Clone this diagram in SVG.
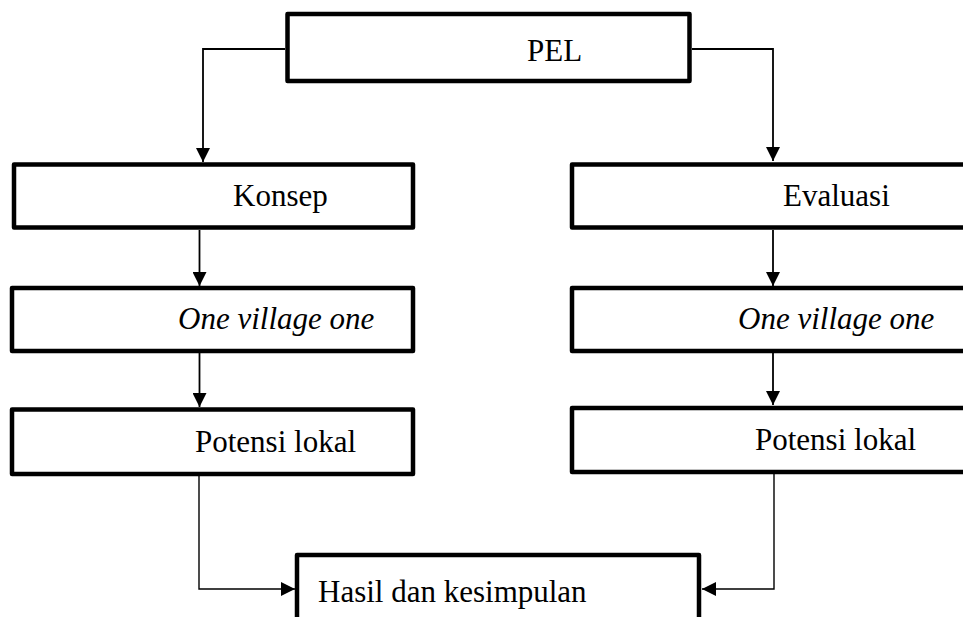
<svg xmlns="http://www.w3.org/2000/svg" width="963" height="617" viewBox="0 0 963 617">
<defs>
<style>
.box{fill:#fff;stroke:#000;stroke-width:4.5;stroke-linejoin:round}
.t{font-family:"Liberation Serif","Times New Roman",serif;font-size:31px;fill:#000}
.i{font-style:italic}
.c{fill:none;stroke:#000;stroke-width:1.8}
.c2{fill:none;stroke:#000;stroke-width:1.4}
</style>
<marker id="ah" markerWidth="14" markerHeight="14" viewBox="0 0 14 14" refX="14" refY="7" orient="auto" markerUnits="userSpaceOnUse">
<path d="M0,0 L14,7 L0,14 Z" fill="#000"/>
</marker>
</defs>
<rect width="963" height="617" fill="#fff"/>
<g id="connectors">
<path class="c" d="M285,49 H203 V162" marker-end="url(#ah)"/>
<path class="c" d="M692,49 H773 V161" marker-end="url(#ah)"/>
<path class="c" d="M199.5,230 V286" marker-end="url(#ah)"/>
<path class="c" d="M199.5,353 V407" marker-end="url(#ah)"/>
<path class="c" d="M773,230 V286" marker-end="url(#ah)"/>
<path class="c" d="M773,353 V405" marker-end="url(#ah)"/>
<path class="c2" d="M199,476 V589 H295" marker-end="url(#ah)"/>
<path class="c2" d="M774,474 V589 H702" marker-end="url(#ah)"/>
</g>
<g id="pel">
<rect class="box" x="287.5" y="14" width="402" height="67"/>
<text class="t" x="527" y="61">PEL</text>
</g>
<g id="konsep">
<rect class="box" x="14" y="164.5" width="399" height="63"/>
<text class="t" x="233" y="206">Konsep</text>
</g>
<g id="evaluasi">
<rect class="box" x="572" y="164.5" width="420" height="63"/>
<text class="t" x="783" y="206">Evaluasi</text>
</g>
<g id="ovop-left">
<rect class="box" x="12" y="288" width="401" height="63"/>
<text class="t i" x="178" y="329">One village one</text>
</g>
<g id="ovop-right">
<rect class="box" x="572" y="288" width="420" height="63"/>
<text class="t i" x="738" y="329">One village one</text>
</g>
<g id="potensi-left">
<rect class="box" x="12" y="409.5" width="401" height="64.5"/>
<text class="t" x="195" y="452">Potensi lokal</text>
</g>
<g id="potensi-right">
<rect class="box" x="572" y="408" width="420" height="64"/>
<text class="t" x="755" y="450">Potensi lokal</text>
</g>
<g id="hasil">
<rect class="box" x="297" y="555" width="402" height="90"/>
<text class="t" x="318" y="602">Hasil dan kesimpulan</text>
</g>
</svg>
